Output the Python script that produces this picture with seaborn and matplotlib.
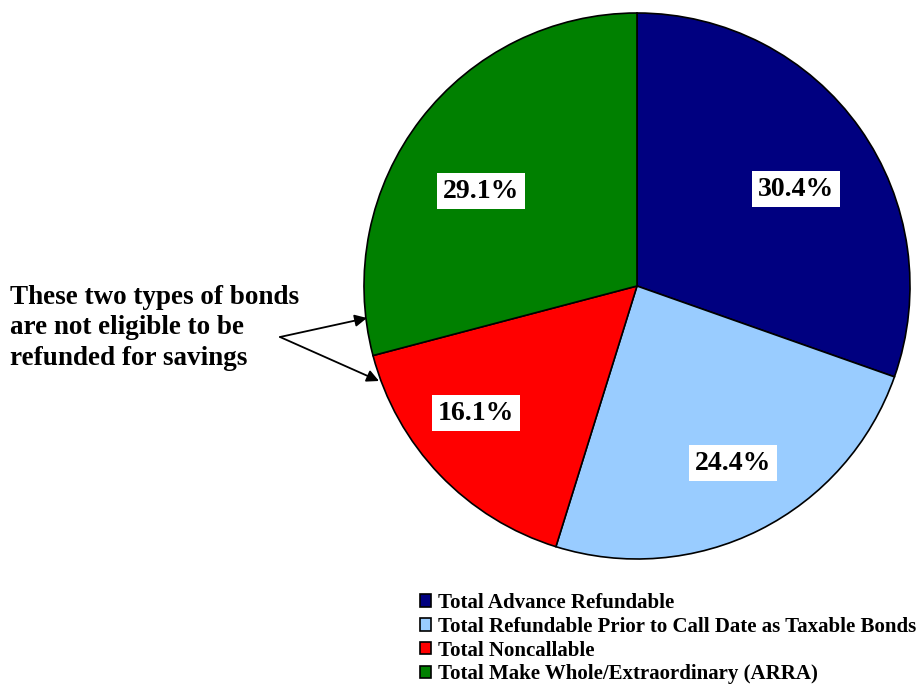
import matplotlib
matplotlib.use("Agg")
import matplotlib.pyplot as plt
from matplotlib.patches import Patch
import seaborn as sns

sns.set_theme(style="white")
plt.rcParams["font.family"] = ["Liberation Serif", "DejaVu Serif"]
plt.rcParams["text.color"] = "black"

# Share of outstanding bonds by refunding status
categories = [
    "Total Advance Refundable",
    "Total Refundable Prior to Call Date as Taxable Bonds",
    "Total Noncallable",
    "Total Make Whole/Extraordinary (ARRA)",
]
shares = [30.4, 24.4, 16.1, 29.1]
colors = ["#000080", "#99CCFF", "#FF0000", "#008000"]
note = "These two types of bonds\nare not eligible to be\nrefunded for savings"

W, H = 921, 686
fig = plt.figure(figsize=(W / 100, H / 100), dpi=100)
ax = fig.add_axes([0, 0, 1, 1])

cx, cy, r = 637, H - 286, 273
wedges, _, pct_texts = ax.pie(
    shares,
    colors=colors,
    startangle=90,
    counterclock=False,
    center=(cx, cy),
    radius=r,
    autopct=lambda p: f"{p:.1f}%",
    pctdistance=0.7,
    wedgeprops=dict(edgecolor="black", linewidth=1.2),
    frame=True,
)
ax.set_xlim(0, W)
ax.set_ylim(0, H)
ax.set_aspect("equal")
ax.axis("off")

# label placement (offset from pie centre, pixels)
label_offsets = [(159, 97), (96, -177), (-161, -127), (-156, 95)]
for t, (dx, dy) in zip(pct_texts, label_offsets):
    t.set_position((cx + dx, cy + dy))
    t.set_fontsize(20)
    t.set_fontweight("bold")
    t.set_color("black")
    t.set_bbox(dict(facecolor="white", edgecolor="none", pad=4))

ax.text(10, H - 328, note, fontsize=19.5, fontweight="bold", va="center",
        ha="left", linespacing=1.28, color="black")

for tip in [(367, H - 318), (379, H - 381)]:
    ax.annotate("", xy=tip, xytext=(280, H - 337),
                arrowprops=dict(arrowstyle="-|>", color="black", lw=1.3,
                                mutation_scale=18, shrinkA=0, shrinkB=0))

handles = [Patch(facecolor=c, edgecolor="black", linewidth=1.2) for c in colors]
leg = fig.legend(handles, categories, loc="upper left",
                 bbox_to_anchor=(420 / W, 1 - 593 / H), frameon=False,
                 prop=dict(family="Liberation Serif", weight="bold", size=15),
                 handlelength=0.55, handleheight=0.55, handletextpad=0.3,
                 labelspacing=0.18, borderpad=0, borderaxespad=0)
for txt in leg.get_texts():
    txt.set_color("black")

fig.savefig("out.png", dpi=100)
